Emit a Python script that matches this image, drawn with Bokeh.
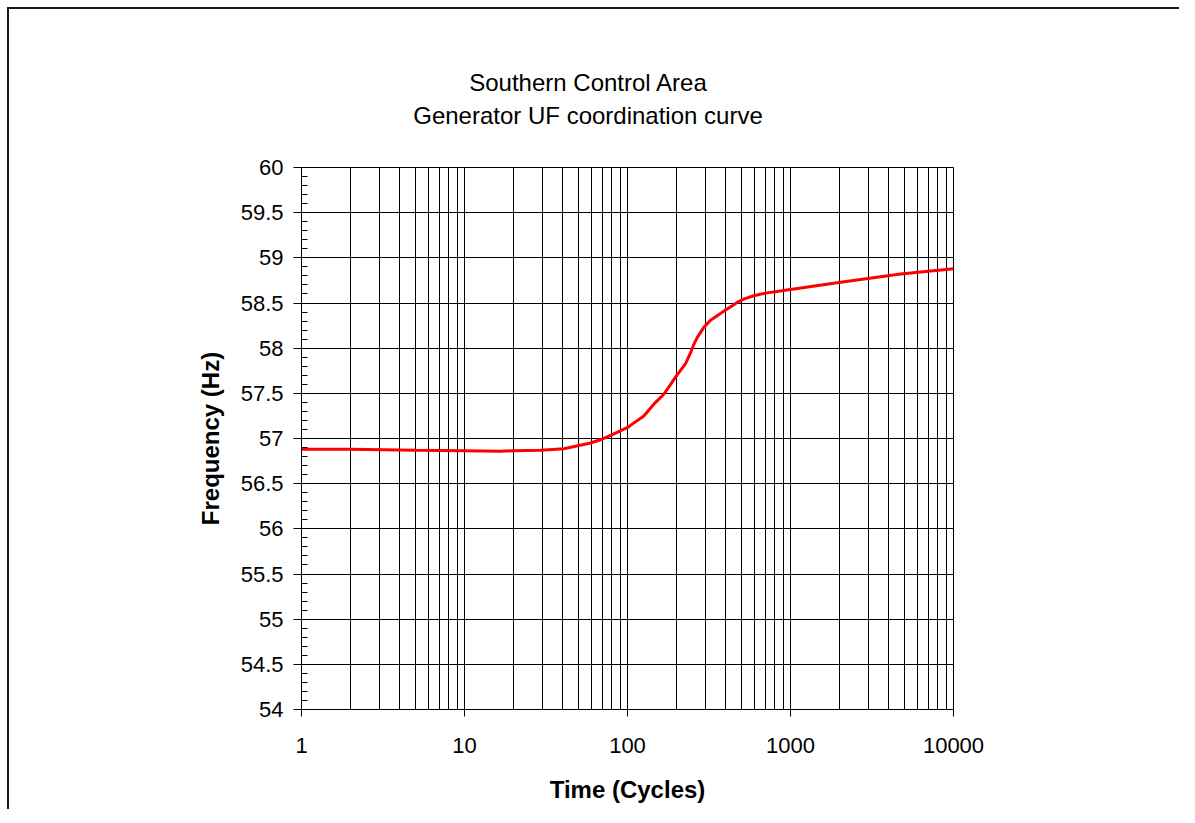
import numpy as np
from bokeh.plotting import figure
from bokeh.models import FixedTicker, Div
from bokeh.layouts import column
from bokeh.embed import file_html
from bokeh.resources import INLINE

# ---- data ----
time_cycles = [1, 2, 5, 10, 16.6, 20, 29.3, 40.7, 59.3, 68.3, 80, 99.6, 109, 126, 145, 167, 184,
               197, 227, 244, 255, 268, 294, 323, 355, 390, 449, 475, 520, 596, 650, 719, 1000,
               2030, 4730, 10000]
frequency_hz = [56.88, 56.88, 56.87, 56.865, 56.86, 56.865, 56.87, 56.886, 56.95, 56.986, 57.04,
                57.12, 57.17, 57.25, 57.38, 57.49, 57.6, 57.68, 57.83, 57.95, 58.04, 58.12, 58.23,
                58.31, 58.36, 58.41, 58.48, 58.51, 58.545, 58.58, 58.597, 58.612, 58.65, 58.73,
                58.82, 58.88]

x_ticks = [1, 10, 100, 1000, 10000]
x_tick_labels = ["1", "10", "100", "1000", "10000"]
y_ticks = [54, 54.5, 55, 55.5, 56, 56.5, 57, 57.5, 58, 58.5, 59, 59.5, 60]
y_tick_labels = ["54", "54.5", "55", "55.5", "56", "56.5", "57", "57.5", "58", "58.5", "59", "59.5", "60"]

title_lines = ["Southern Control Area", "Generator UF coordination curve"]
x_label = "Time (Cycles)"
y_label = "Frequency (Hz)"

FONT = "Liberation Sans"

x_minor = [m * 10 ** d for d in range(4) for m in range(2, 10)]
y_minor = [round(v, 1) for v in np.arange(54.0, 60.01, 0.1)]

TITLE_H = 147

title_div = Div(
    text=("<div style=\"width:1176px; padding-top:66px; text-align:center; "
          "font-family:'Liberation Sans'; font-size:24px; line-height:33px; color:#000;\">"
          + "<br>".join(title_lines) + "</div>"),
    width=1179, height=TITLE_H, margin=0)

p = figure(x_axis_type="log", x_range=(1, 10000), y_range=(54, 60),
           frame_width=652, frame_height=542,
           min_border_left=301, min_border_top=167 - TITLE_H, min_border_right=226,
           min_border_bottom=100, margin=0,
           output_backend="svg", toolbar_location=None)

p.background_fill_color = "white"
p.border_fill_color = None
p.outline_line_color = "black"
p.outline_line_width = 1

p.line(time_cycles, frequency_hz, line_color="#ff0000", line_width=3)

# x axis
p.xaxis.ticker = FixedTicker(ticks=x_ticks, minor_ticks=x_minor)
p.xaxis.major_label_overrides = {t: l for t, l in zip(x_ticks, x_tick_labels)}
p.xaxis.axis_label = x_label
p.xaxis.axis_label_text_font = FONT
p.xaxis.axis_label_text_font_style = "bold"
p.xaxis.axis_label_text_font_size = "24px"
p.xaxis.axis_label_text_color = "black"
p.xaxis.axis_label_standoff = 20
p.xaxis.major_label_text_font = FONT
p.xaxis.major_label_text_font_size = "22px"
p.xaxis.major_label_text_color = "black"
p.xaxis.major_label_standoff = 21
p.xaxis.major_tick_out = 7
p.xaxis.major_tick_in = 0
p.xaxis.minor_tick_out = 0
p.xaxis.minor_tick_in = 0
p.xaxis.axis_line_color = "black"
p.xaxis.major_tick_line_color = "black"

# y axis
p.yaxis.ticker = FixedTicker(ticks=y_ticks, minor_ticks=y_minor)
p.yaxis.major_label_overrides = {t: l for t, l in zip(y_ticks, y_tick_labels)}
p.yaxis.axis_label = y_label
p.yaxis.axis_label_text_font = FONT
p.yaxis.axis_label_text_font_style = "bold"
p.yaxis.axis_label_text_font_size = "24px"
p.yaxis.axis_label_text_color = "black"
p.yaxis.axis_label_standoff = 14
p.yaxis.major_label_text_font = FONT
p.yaxis.major_label_text_font_size = "22px"
p.yaxis.major_label_text_color = "black"
p.yaxis.major_label_standoff = 10
p.yaxis.major_tick_out = 8
p.yaxis.major_tick_in = 0
p.yaxis.minor_tick_out = 0
p.yaxis.minor_tick_in = 6
p.yaxis.axis_line_color = "black"
p.yaxis.major_tick_line_color = "black"
p.yaxis.minor_tick_line_color = "black"

# grids
p.xgrid.grid_line_color = "black"
p.xgrid.grid_line_width = 1
p.xgrid.minor_grid_line_color = "black"
p.xgrid.minor_grid_line_width = 1
p.ygrid.grid_line_color = "black"
p.ygrid.grid_line_width = 1
p.ygrid.minor_grid_line_color = None

layout = column(title_div, p, spacing=0, margin=0,
                styles={"background-color": "white",
                        "box-shadow": "inset 7px 7px 0 0 white, inset 9px 9px 0 0 #1a1a1a"})

open("out.html", "w").write(file_html(layout, INLINE))
